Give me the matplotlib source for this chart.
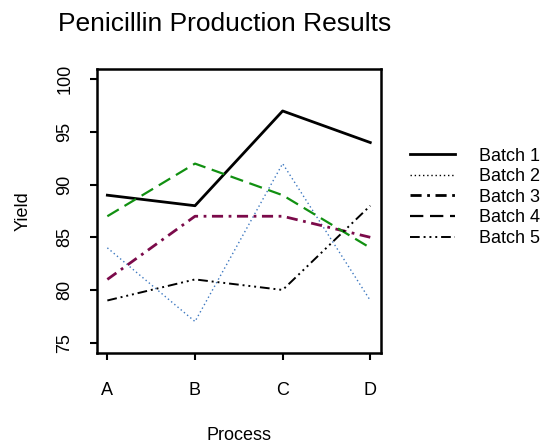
import matplotlib
matplotlib.use("Agg")
import matplotlib.pyplot as plt
from matplotlib.lines import Line2D

plt.rcParams['font.family'] = ['Liberation Sans', 'DejaVu Sans']

processes = ['A', 'B', 'C', 'D']
batch_names = ['Batch 1', 'Batch 2', 'Batch 3', 'Batch 4', 'Batch 5']
batch1 = [89, 88, 97, 94]
batch2 = [84, 77, 92, 79]
batch3 = [81, 87, 87, 85]
batch4 = [87, 92, 89, 84]
batch5 = [79, 81, 80, 88]

series = [batch1, batch2, batch3, batch4, batch5]
colors = ['black', '#3d78c0', '#7b0a4a', '#119011', 'black']
widths = [2.0, 1.0, 2.0, 1.6, 1.4]
styles = ['-', (0, (1, 2)), (0, (4, 2, 1, 2)), (0, (6, 3)), (0, (5, 2, 1, 2, 1, 2, 1, 2))]

fig = plt.figure(figsize=(5.44, 4.47), dpi=100)
ax = fig.add_axes([0.178, 0.21, 0.522, 0.636])

x = list(range(1, len(processes) + 1))
for vals, c, lw, ls in zip(series, colors, widths, styles):
    ax.plot(x, vals, color=c, lw=lw, linestyle=ls)

ax.set_xlim(0.88, 4.12)
ax.set_ylim(74, 101)
ax.set_xticks(x)
ax.set_xticklabels(processes, fontsize=13)
ax.set_yticks([75, 80, 85, 90, 95, 100])
ax.set_yticklabels(['75', '80', '85', '90', '95', '100'], fontsize=13,
                   rotation=90, va='center')
ax.tick_params(length=5, width=1.5)
ax.tick_params(axis='x', pad=16)
ax.tick_params(axis='y', pad=12)
for sp in ax.spines.values():
    sp.set_linewidth(1.8)

ax.set_xlabel('Process', fontsize=13, labelpad=20)
ax.set_ylabel('Yield', fontsize=13, labelpad=18)
fig.text(0.107, 0.93, 'Penicillin Production Results', fontsize=19)

handles = [Line2D([0], [0], color='black', lw=lw, linestyle=ls)
           for lw, ls in zip(widths, styles)]
fig.legend(handles, batch_names, loc='upper left', bbox_to_anchor=(0.754, 0.67),
           frameon=False, fontsize=13, handlelength=2.5, labelspacing=0.2,
           handletextpad=1.3, borderpad=0, borderaxespad=0)

fig.savefig('out.png', dpi=100)
